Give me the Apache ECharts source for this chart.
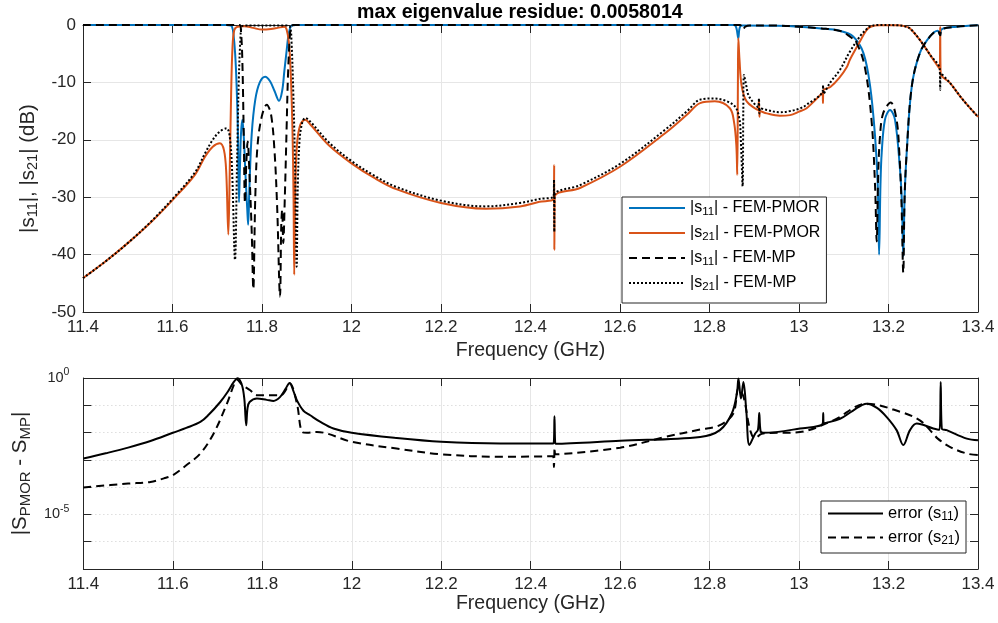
<!DOCTYPE html>
<html><head><meta charset="utf-8">
<script src="https://cdn.jsdelivr.net/npm/echarts@6.0.0/dist/echarts.min.js"></script>
<style>html,body{margin:0;padding:0;background:#fff}#c{width:998px;height:623px}</style>
</head><body><div id="c"></div>
<script>
// ---------- DATA ----------
// |s11| FEM-PMOR (dB)
const fS11P = [11.40,11.72,11.730,11.733,11.736,11.740,11.743,11.746,11.7486,11.751,11.753,11.756,11.759,11.763,11.767,11.769,11.772,11.777,11.785,11.795,11.807,11.818,11.828,11.838,11.845,11.850,11.855,11.859,11.8626,11.866,11.875,12.855,12.860,12.8644,12.867,12.872,12.95,13.00,13.05,13.09,13.121,13.144,13.159,13.170,13.176,13.179,13.182,13.1848,13.192,13.2034,13.2145,13.2257,13.230,13.233,13.236,13.2406,13.252,13.270,13.2927,13.310,13.3155,13.318,13.352,13.40];
const dS11P = [0,0,-0.1,-0.3,-1.4,-5,-10,-18,-30.9,-24,-19,-16.5,-19,-26,-32,-34.8,-28,-19,-13,-10,-9.0,-9.8,-11.5,-13.2,-11.5,-8,-4.5,-1.8,-0.6,-0.1,0,0,-0.5,-2.3,-0.6,-0.1,-0.15,-0.3,-0.6,-1.0,-2.0,-4.9,-10.7,-19.4,-28,-40,-28,-22.3,-16.5,-14.8,-16.5,-25.2,-31,-40.3,-30,-22.3,-10.7,-4.9,-2.0,-1.0,-1.8,-0.8,-0.3,-0.05];
// |s21| FEM-PMOR (dB)
const fS21P = [11.40,11.45,11.50,11.55,11.60,11.65,11.673,11.690,11.706,11.715,11.720,11.7248,11.728,11.731,11.734,11.738,11.745,11.760,11.780,11.800,11.820,11.835,11.850,11.855,11.860,11.864,11.868,11.8705,11.872,11.874,11.878,11.885,11.896,11.910,11.950,12.00,12.05,12.10,12.20,12.30,12.3765,12.42,12.452,12.4529,12.4533,12.4542,12.5106,12.60,12.70,12.75,12.779,12.812,12.8455,12.855,12.860,12.862,12.8635,12.8644,12.867,12.872,12.883,12.909,12.9105,12.9115,12.913,12.928,12.957,12.98,13.00,13.017,13.053,13.0535,13.0545,13.070,13.090,13.107,13.114,13.133,13.150,13.160,13.180,13.220,13.235,13.248,13.270,13.293,13.3145,13.3155,13.3165,13.3374,13.367,13.40];
const dS21P = [-44.1,-41.2,-38.0,-34.5,-30.5,-26.1,-22.9,-21.2,-20.6,-21.8,-25.5,-36.5,-25,-12,-4,-0.9,-0.3,-0.2,-0.5,-0.8,-0.7,-0.5,-0.3,-0.8,-3,-8,-18,-30,-43.5,-30,-21,-17.5,-16.5,-17.5,-21.0,-24.1,-26.6,-28.6,-31.0,-32.0,-31.6,-30.8,-30.2,-24.4,-39.2,-30.0,-28.4,-24.7,-18.9,-15.6,-13.6,-13.3,-14.5,-17,-21,-26.1,-10,-2.3,-6,-10.7,-13.3,-14.8,-13.1,-16,-15.0,-15.4,-15.8,-15.7,-15.1,-14.5,-11.8,-13.6,-11.4,-10.8,-9.2,-7.3,-6.0,-3.3,-1.0,-0.3,-0.05,-0.05,-0.2,-0.6,-2.6,-5.2,-7.7,-0.3,-8.4,-10.1,-13.1,-16.0];
// |s11| FEM-MP (dB)
const fS11M = [11.40,11.750,11.753,11.756,11.759,11.762,11.765,11.768,11.772,11.777,11.7806,11.785,11.790,11.7993,11.8105,11.820,11.828,11.834,11.8402,11.843,11.845,11.8475,11.851,11.855,11.858,11.8626,11.866,11.870,12.868,12.872,12.875,12.880,12.890,12.95,13.00,13.05,13.09,13.110,13.129,13.147,13.162,13.170,13.1736,13.177,13.181,13.188,13.205,13.218,13.224,13.229,13.233,13.236,13.2406,13.252,13.270,13.2927,13.310,13.3155,13.318,13.352,13.40];
const dS11M = [0,0,-1,-6,-18,-31,-24,-20.3,-26,-36,-46,-30,-21,-16,-13.9,-15.5,-22,-32,-47.3,-35,-32.2,-38,-30,-18,-9,-1.5,-0.2,0,0,-0.3,-0.75,-0.3,-0.1,-0.1,-0.3,-0.6,-1.0,-1.8,-3.2,-7.3,-16.5,-28.1,-37.7,-26,-19.4,-15.4,-13.5,-16.5,-22,-31,-43.2,-30,-22.3,-10.7,-4.9,-2.0,-1.0,-1.8,-0.8,-0.3,-0.05];
// |s21| FEM-MP (dB)
const fS21M = [11.40,11.45,11.50,11.55,11.60,11.65,11.673,11.690,11.705,11.721,11.728,11.733,11.7397,11.744,11.748,11.752,11.7546,11.760,11.855,11.8626,11.866,11.870,11.874,11.8775,11.880,11.884,11.890,11.897,11.910,11.950,12.00,12.05,12.10,12.20,12.30,12.3765,12.42,12.452,12.4525,12.4532,12.4538,12.5106,12.60,12.70,12.75,12.779,12.8085,12.853,12.866,12.870,12.874,12.8755,12.877,12.882,12.887,12.902,12.909,12.9105,12.9115,12.913,12.928,12.957,12.98,13.00,13.017,13.053,13.0538,13.0548,13.070,13.0916,13.114,13.137,13.150,13.160,13.180,13.220,13.235,13.248,13.270,13.293,13.3145,13.3155,13.3165,13.3374,13.367,13.40];
const dS21M = [-44.1,-41.2,-38.0,-34.4,-30.3,-25.7,-22.3,-20.0,-18.6,-18.0,-19.5,-25,-40.9,-25,-10,-2,-0.3,-0.1,-0.1,-0.3,-3,-12,-25,-42.1,-28,-20,-17,-16.2,-17.0,-20.5,-23.7,-26.2,-28.2,-30.6,-31.6,-31.0,-30.3,-29.8,-27,-36,-29.7,-27.9,-24.2,-18.3,-15.0,-13.0,-12.8,-13.9,-16.0,-20,-28.1,-15,-8.7,-10.5,-12.2,-13.9,-14.3,-12.8,-15.4,-14.5,-14.8,-15.2,-15.0,-14.6,-13.9,-11.5,-10.5,-12.0,-10.0,-7.8,-4.6,-1.9,-0.8,-0.2,0,-0.05,-0.2,-0.6,-2.6,-5.2,-7.7,-11.3,-8.4,-10.1,-13.1,-16.0];
// error |S_PMOR - S_MP| for s11
const fE11 = [11.40,11.45,11.50,11.55,11.60,11.63,11.6615,11.68,11.706,11.722,11.736,11.745,11.7546,11.760,11.764,11.767,11.7716,11.788,11.810,11.825,11.840,11.852,11.861,11.869,11.8775,11.892,11.907,11.930,11.959,12.00,12.10,12.20,12.332,12.450,12.452,12.4532,12.4545,12.456,12.60,12.779,12.823,12.8496,12.861,12.8645,12.870,12.8756,12.882,12.889,12.9017,12.908,12.911,12.914,12.920,13.0022,13.053,13.054,13.055,13.0916,13.120,13.151,13.175,13.196,13.218,13.233,13.248,13.263,13.300,13.314,13.3166,13.319,13.330,13.375,13.40];
const vE11 = [1.12e-3,1.74e-3,2.8e-3,4.9e-3,9.8e-3,0.0148,2.45e-2,0.0447,0.132,0.30,0.71,0.98,0.54,0.16,0.0186,0.079,0.132,0.178,0.158,0.145,0.204,0.40,0.66,0.355,0.151,0.063,0.043,0.0245,0.0141,0.0098,0.0063,0.0046,0.0040,0.0040,0.0050,0.040,0.0050,0.0039,0.0050,0.0069,0.0123,0.050,0.27,0.95,0.178,0.71,0.063,0.0035,0.0091,0.0126,0.052,0.0112,0.0098,0.0141,0.0214,0.052,0.022,0.032,0.063,0.115,0.079,0.037,0.0123,0.0035,0.0123,0.0214,0.0141,0.0126,0.71,0.0141,0.0123,0.0060,0.0052];
// error |S_PMOR - S_MP| for s21
const fE21 = [11.40,11.50,11.55,11.58,11.60,11.63,11.6615,11.691,11.721,11.736,11.743,11.755,11.773,11.788,11.840,11.859,11.862,11.8775,11.889,11.900,11.922,12.00,12.10,12.20,12.332,12.450,12.452,12.4535,12.455,12.60,12.70,12.779,12.823,12.853,12.8645,12.8756,12.8906,12.9017,12.9166,13.002,13.0767,13.151,13.2257,13.270,13.300,13.310,13.337,13.375,13.40];
const vE21 = [9.8e-5,1.35e-4,1.55e-4,2.1e-4,2.75e-4,6.3e-4,1.7e-3,9.1e-3,0.115,0.54,0.89,0.56,0.355,0.234,0.234,0.54,0.63,0.115,0.0105,0.0098,0.0105,0.0046,0.0026,0.0016,0.0013,0.00135,0.00055,0.0028,0.0016,0.0028,0.0069,0.0129,0.0186,0.050,0.42,0.21,0.0123,0.0060,0.0091,0.0105,0.028,0.115,0.058,0.028,0.0091,0.0060,0.0030,0.0017,0.0015];
// axes
const freqMin = 11.4, freqMax = 13.4, freqStep = 0.2;
const dbMin = -50, dbMax = 0, dbStep = 10;
const errMin = 1e-7, errMax = 1;
const titleText = 'max eigenvalue residue: 0.0058014';
const legendTop = {s11p:'|s{sub|11}| - FEM-PMOR', s21p:'|s{sub|21}| - FEM-PMOR', s11m:'|s{sub|11}| - FEM-MP', s21m:'|s{sub|21}| - FEM-MP'};
const legendBot = {e11:'error (s{sub|11})', e21:'error (s{sub|21})'};

// ---------- CHART ----------
const FONT = '"Liberation Sans", Arial, Helvetica, sans-serif';
const AX = '#262626';
const zip = (a, b) => a.map((x, i) => [x, b[i]]);
const fmtF = v => String(parseFloat(Number(v).toFixed(1)));

function xAx(g, pos, labels, gap) {
  return {
    type: 'value', gridIndex: g, position: pos, min: freqMin, max: freqMax, interval: freqStep,
    axisLine: {show: true, onZero: false, lineStyle: {color: AX, width: 1}},
    axisTick: {show: true, inside: true, length: 8, lineStyle: {color: AX}},
    axisLabel: {show: labels, margin: 7, fontSize: 17, color: AX, fontFamily: FONT, formatter: fmtF, showMinLabel: true, showMaxLabel: true},
    splitLine: {show: labels, lineStyle: {color: '#e6e6e6', width: 1}},
    name: labels ? 'Frequency (GHz)' : '', nameLocation: 'middle', nameGap: gap || 25,
    nameTextStyle: {fontSize: 19.5, color: AX, fontFamily: FONT}
  };
}
function yDb(pos, labels) {
  return {
    type: 'value', gridIndex: 0, position: pos, min: dbMin, max: dbMax, interval: dbStep,
    axisLine: {show: true, onZero: false, lineStyle: {color: AX, width: 1}},
    axisTick: {show: true, inside: true, length: 8, lineStyle: {color: AX}},
    axisLabel: {show: labels, margin: 7, fontSize: 17, color: AX, fontFamily: FONT},
    splitLine: {show: labels, lineStyle: {color: '#e6e6e6', width: 1}},
    name: labels ? '|s{sub|11}|, |s{sub|21}| (dB)' : '', nameLocation: 'middle', nameGap: 40,
    nameTextStyle: {fontSize: 20.5, color: AX, fontFamily: FONT, lineHeight: 25,
      rich: {sub: {fontSize: 14.5, fontFamily: FONT, color: AX, verticalAlign: 'bottom', lineHeight: 15}}}
  };
}
function yErr(pos, labels) {
  return {
    type: 'log', logBase: 10, gridIndex: 1, position: pos, min: errMin, max: errMax, splitNumber: 7,
    axisLine: {show: true, onZero: false, lineStyle: {color: AX, width: 1}},
    axisTick: {show: true, inside: true, length: 8, lineStyle: {color: AX}},
    axisLabel: {show: labels, margin: 14, fontSize: 14.5, color: AX, fontFamily: FONT, lineHeight: 22,
      formatter: v => { const e = Math.round(Math.log10(v)); return (e === 0 || e === -5) ? '10{sup|' + e + '}' : ''; },
      rich: {sup: {fontSize: 10.5, fontFamily: FONT, color: AX, verticalAlign: 'top', lineHeight: 12}}},
    splitLine: {show: labels, lineStyle: {color: '#cdcdcd', width: 1, type: [1, 3]}},
    name: labels ? '|S{sub|PMOR} - S{sub|MP}|' : '', nameLocation: 'middle', nameGap: 50,
    nameTextStyle: {fontSize: 20.5, color: AX, fontFamily: FONT, lineHeight: 25,
      rich: {sub: {fontSize: 15, fontFamily: FONT, color: AX, verticalAlign: 'bottom', lineHeight: 15}}}
  };
}
function line(name, xi, yi, data, color, type) {
  return {
    name, type: 'line', xAxisIndex: xi, yAxisIndex: yi, data, showSymbol: false, symbol: 'none',
    smooth: 0.35,
    clip: false, animation: false, silent: true,
    lineStyle: {color, width: 2, type: type || 'solid'}, itemStyle: {color}
  };
}
const chart = echarts.init(document.getElementById('c'), null, {renderer: 'canvas'});
const errSolid = line('e11', 2, 2, zip(fE11, vE11), '#000');
errSolid.markLine = {silent: true, symbol: 'none', label: {show: false},
  lineStyle: {color: '#e6e6e6', width: 1, type: 'solid'}, data: [{yAxis: 1e-5}], z: 0, animation: false};
chart.setOption({
  animation: false,
  backgroundColor: '#fff',
  title: {text: titleText, left: 357, top: 3, padding: 0,
    textStyle: {fontSize: 19.6, fontWeight: 'bold', color: '#000', fontFamily: FONT}},
  grid: [
    {left: 83, top: 25, width: 895, height: 287},
    {left: 83, top: 378, width: 895, height: 191}
  ],
  xAxis: [xAx(0, 'bottom', true, 29), xAx(0, 'top', false), xAx(1, 'bottom', true, 25), xAx(1, 'top', false)],
  yAxis: [yDb('left', true), yDb('right', false), yErr('left', true), yErr('right', false)],
  legend: [
    {data: ['s11p', 's21p', 's11m', 's21m'], orient: 'vertical', left: 622, top: 197,
      itemWidth: 56, itemHeight: 14, itemGap: 5, padding: [1, 6, 10, 6],
      backgroundColor: '#fff', borderColor: AX, borderWidth: 1, borderRadius: 0,
      itemStyle: {opacity: 0},
      selectedMode: false, formatter: n => legendTop[n],
      textStyle: {fontFamily: FONT, fontSize: 16, color: '#000', lineHeight: 20,
        rich: {sub: {fontSize: 11.5, fontFamily: FONT, color: '#000', verticalAlign: 'bottom', lineHeight: 12}}}},
    {data: ['e11', 'e21'], orient: 'vertical', left: 821, top: 501,
      itemWidth: 55, itemHeight: 14, itemGap: 5, padding: [3, 6, 6, 6],
      backgroundColor: '#fff', borderColor: AX, borderWidth: 1, borderRadius: 0,
      itemStyle: {opacity: 0},
      selectedMode: false, formatter: n => legendBot[n],
      textStyle: {fontFamily: FONT, fontSize: 16.5, color: '#000', lineHeight: 19,
        rich: {sub: {fontSize: 12, fontFamily: FONT, color: '#000', verticalAlign: 'bottom', lineHeight: 12}}}}
  ],
  series: [
    line('s11p', 0, 0, zip(fS11P, dS11P), '#0072BD'),
    line('s21p', 0, 0, zip(fS21P, dS21P), '#D95319'),
    line('s11m', 0, 0, zip(fS11M, dS11M), '#000', [8, 5]),
    line('s21m', 0, 0, zip(fS21M, dS21M), '#000', [2, 2]),
    errSolid,
    line('e21', 2, 2, zip(fE21, vE21), '#000', [8, 5])
  ]
});
</script></body></html>
